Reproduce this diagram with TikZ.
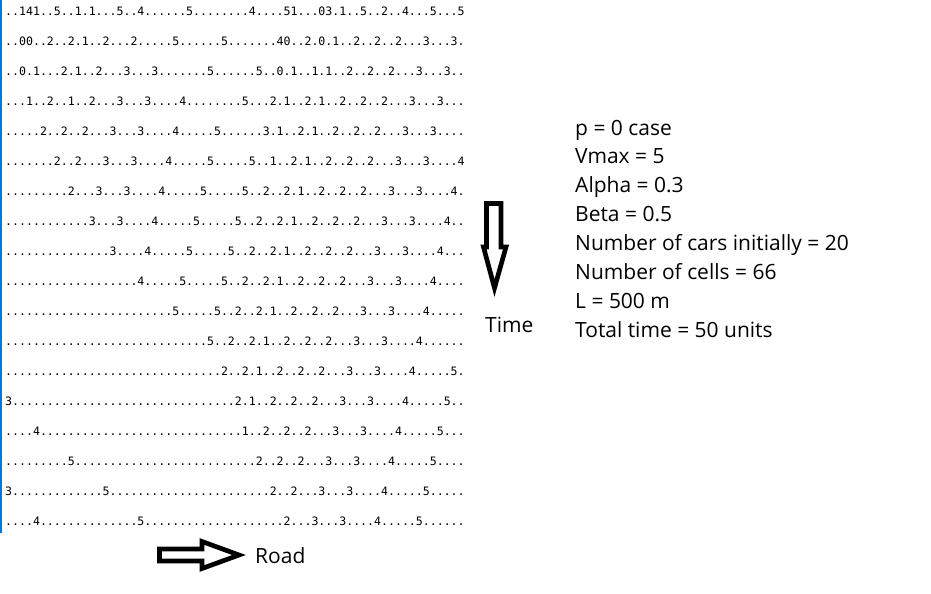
\documentclass[tikz,border=0pt]{standalone}
\usepackage{fontspec}
\setmainfont{Open Sans}
\newfontfamily\cellfont{DejaVu Sans Mono}
\usetikzlibrary{positioning}
\definecolor{cInk}{HTML}{000000}
\definecolor{cEdge}{HTML}{0078D7}
\tikzset{
  cellrow/.style={anchor=base west, inner sep=0pt, text=cInk,
                font=\cellfont\fontsize{9.87}{10}\selectfont},
  param/.style={anchor=base west, inner sep=0pt, text=cInk,
                font=\fontsize{17.9}{20}\selectfont},
  blockarrow/.style={draw=cInk, line width=4pt, fill=white, line join=miter},
}

\begin{document}
\begin{tikzpicture}[x=0.3mm, y=-0.3mm]
  \useasboundingbox (0,0) rectangle (931,593);

  % ---- road cells, one row per time step
  \draw[cEdge, line width=0.6mm] (1,0) -- (1,533);
  \foreach \i/\s in {
      1/{..141..5..1.1...5..4......5........4....51...03.1..5..2..4...5...5},
      2/{..00..2..2.1..2...2.....5......5.......40..2.0.1..2..2..2...3...3.},
      3/{..0.1...2.1..2...3...3.......5......5..0.1..1.1..2..2..2...3...3..},
      4/{...1..2..1..2...3...3....4........5...2.1..2.1..2..2..2...3...3...},
      5/{.....2..2..2...3...3....4.....5......3.1..2.1..2..2..2...3...3....},
      6/{.......2..2...3...3....4.....5.....5..1..2.1..2..2..2...3...3....4},
      7/{.........2...3...3....4.....5.....5..2..2.1..2..2..2...3...3....4.},
      8/{............3...3....4.....5.....5..2..2.1..2..2..2...3...3....4..},
      9/{...............3....4.....5.....5..2..2.1..2..2..2...3...3....4...},
      10/{...................4.....5.....5..2..2.1..2..2..2...3...3....4....},
      11/{........................5.....5..2..2.1..2..2..2...3...3....4.....},
      12/{.............................5..2..2.1..2..2..2...3...3....4......},
      13/{...............................2..2.1..2..2..2...3...3....4.....5.},
      14/{3................................2.1..2..2..2...3...3....4.....5..},
      15/{....4.............................1..2..2..2...3...3....4.....5...},
      16/{.........5..........................2..2..2...3...3....4.....5....},
      17/{3.............5.......................2..2...3...3....4.....5.....},
      18/{....4..............5....................2...3...3....4.....5......}}
    \node[cellrow] (row\i) at (5,{15+30*(\i-1)}) {\s};

  % ---- model parameters
  \foreach \i/\t in {1/{p = 0 case}, 2/{Vmax = 5}, 3/{Alpha = 0.3}, 4/{Beta = 0.5},
                     5/{Number of cars initially = 20}, 6/{Number of cells = 66},
                     7/{L = 500 m}, 8/{Total time = 50 units}}
    \node[param] (par\i) at (575,{135+28.9*(\i-1)}) {\t};

  % ---- axis arrows
  \draw[blockarrow] (486.5,203.5) -- (501,203.5) -- (501,247) -- (506,247)
       -- (494.5,288) -- (483.5,247) -- (486.5,247) -- cycle;
  \node[param] (tlabel) at (485,332) {Time};
  \draw[blockarrow] (159.5,549) -- (202,549) -- (202,541.5) -- (239,555)
       -- (202,568.5) -- (202,561) -- (159.5,561) -- cycle;
  \node[param] (rlabel) at (255,563) {Road};
\end{tikzpicture}
\end{document}
